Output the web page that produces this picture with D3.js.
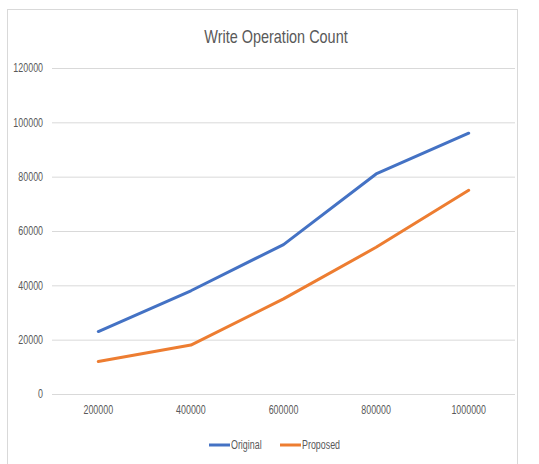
<!DOCTYPE html>
<html>
<head>
<meta charset="utf-8">
<script src="https://cdn.jsdelivr.net/npm/d3@7"></script>
<style>
  body { margin: 0; background: #fff; }
  text { font-family: "Liberation Sans", Arial, sans-serif; fill: #595959; }
</style>
</head>
<body>
<svg id="chart" width="539" height="464"></svg>
<script>
// chart data
const categories = ["200000", "400000", "600000", "800000", "1000000"];
const original = [23000, 38000, 55000, 81000, 96000];
const proposed = [12000, 18000, 35000, 54000, 75000];
const yTicks = [0, 20000, 40000, 60000, 80000, 100000, 120000];

const series = [
  { name: "Original", values: original, color: "#4472C4" },
  { name: "Proposed", values: proposed, color: "#ED7D31" }
];

const svg = d3.select("#chart");

// chart area frame
svg.append("rect")
  .attr("x", 7.5).attr("y", 9.5)
  .attr("width", 510).attr("height", 470)
  .attr("fill", "#fff")
  .attr("stroke", "#d9d9d9");

svg.append("text")
  .attr("class", "narrow")
  .attr("data-k", 0.76)
  .attr("x", 276).attr("y", 43)
  .attr("text-anchor", "middle")
  .attr("font-size", 19)
  .text("Write Operation Count");

const x = d3.scaleBand().domain(categories).range([52, 515]);
const y = d3.scaleLinear().domain([0, 120000]).range([394, 68]);

// gridlines + y labels
svg.append("g")
  .attr("transform", "translate(52,0)")
  .call(d3.axisLeft(y).tickValues(yTicks).tickSize(-463).tickPadding(9).tickFormat(d3.format("d")))
  .call(g => g.select(".domain").remove())
  .call(g => g.selectAll(".tick line").attr("stroke", "#d9d9d9"))
  .call(g => g.selectAll(".tick text").attr("class", "narrow").attr("font-size", 12).attr("fill", "#595959"));

// x labels
svg.append("g")
  .attr("transform", "translate(0,394)")
  .call(d3.axisBottom(x).tickSize(0).tickPadding(11))
  .call(g => g.select(".domain").remove())
  .call(g => g.selectAll(".tick text").attr("class", "narrow").attr("font-size", 12).attr("fill", "#595959"));

const line = d3.line()
  .x((d, i) => x(categories[i]) + x.bandwidth() / 2)
  .y(d => y(d));

svg.selectAll("path.series")
  .data(series)
  .enter().append("path")
  .attr("class", "series")
  .attr("fill", "none")
  .attr("stroke", d => d.color)
  .attr("stroke-width", 3)
  .attr("stroke-linejoin", "round")
  .attr("stroke-linecap", "round")
  .attr("d", d => line(d.values));

// legend
const legendX = [209, 280];
const legend = svg.selectAll("g.legend")
  .data(series)
  .enter().append("g")
  .attr("class", "legend")
  .attr("transform", (d, i) => `translate(${legendX[i]},445)`);

legend.append("line")
  .attr("x1", 0).attr("x2", 21)
  .attr("stroke", d => d.color)
  .attr("stroke-width", 3);

legend.append("text")
  .attr("class", "narrow")
  .attr("x", 22).attr("y", 4)
  .attr("font-size", 12)
  .text(d => d.name);

// squeeze text to look like the condensed office font
svg.selectAll("text.narrow").each(function() {
  const k = +(this.getAttribute("data-k") || 0.74);
  const w = this.getComputedTextLength();
  d3.select(this)
    .attr("textLength", w * k)
    .attr("lengthAdjust", "spacingAndGlyphs");
});
</script>
</body>
</html>
